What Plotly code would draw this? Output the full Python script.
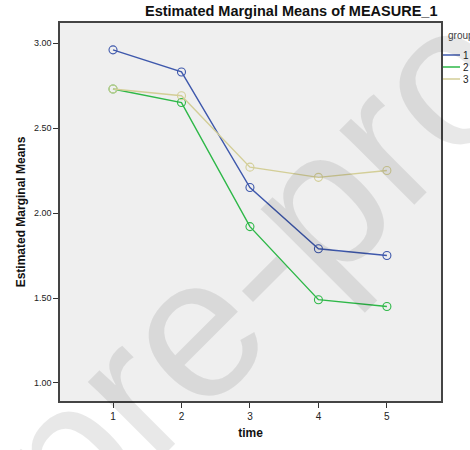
import plotly.graph_objects as go

time = [1, 2, 3, 4, 5]
groups = ["1", "2", "3"]
group1 = [2.96, 2.83, 2.15, 1.79, 1.75]
group2 = [2.73, 2.65, 1.92, 1.49, 1.45]
group3 = [2.73, 2.69, 2.27, 2.21, 2.25]
colors = ["#3e58ac", "#2eb848", "#d3ce97"]
y_ticks = [1.0, 1.5, 2.0, 2.5, 3.0]

FONT = "Liberation Sans, Arial, sans-serif"
W, H = 470, 450
L, R, T, B = 60, 29, 23, 49

fig = go.Figure()
for name, vals, col in zip(groups, [group1, group2, group3], colors):
    fig.add_trace(go.Scatter(
        x=time, y=vals, mode="lines+markers", name=name,
        line=dict(color=col, width=1.4),
        marker=dict(symbol="circle-open", size=8, color=col, line=dict(width=1.1)),
        showlegend=False,
    ))

fig.update_layout(
    width=W, height=H,
    margin=dict(l=L, r=R, t=T, b=B, pad=0),
    paper_bgcolor="white",
    plot_bgcolor="#efefef",
    font=dict(family=FONT, size=9, color="#222"),
    xaxis=dict(
        range=[0.226, 5.79], tickvals=time, ticktext=[str(t) for t in time],
        showgrid=False, zeroline=False, showline=True, mirror=True,
        linecolor="#444", linewidth=1.5, ticks="outside", ticklen=5,
        tickcolor="#333", tickfont=dict(size=10),
        title=dict(text="<b>time</b>", font=dict(size=12, color="#111"), standoff=8),
    ),
    yaxis=dict(
        range=[0.894, 3.118], tickvals=y_ticks,
        ticktext=[f"{v:.2f}" for v in y_ticks],
        showgrid=False, zeroline=False, showline=True, mirror=True,
        linecolor="#444", linewidth=1.5, ticks="outside", ticklen=5,
        tickcolor="#333", tickfont=dict(size=9),
        title=dict(text="<b>Estimated Marginal Means</b>", font=dict(size=12, color="#111"), standoff=6),
    ),
)

pw, ph = W - L - R, H - T - B
def px(xp):
    return (xp - L) / pw
def py(yp):
    return (H - B - yp) / ph

# title
fig.add_annotation(
    text="<b>Estimated Marginal Means of MEASURE_1</b>",
    xref="paper", yref="paper",
    x=px(291), y=py(11),
    xanchor="center", yanchor="middle", showarrow=False,
    font=dict(size=14.5, color="#111", family=FONT),
)

# manual legend
fig.add_annotation(text="group", xref="paper", yref="paper",
                   x=px(446), y=py(35), xanchor="left", yanchor="middle",
                   showarrow=False, font=dict(size=10, color="#444", family=FONT))
for i, (name, col) in enumerate(zip(groups, colors)):
    yy = 55 + 12 * i
    fig.add_shape(type="line", xref="paper", yref="paper",
                  x0=px(443), x1=px(460), y0=py(yy), y1=py(yy),
                  line=dict(color=col, width=1.5))
    fig.add_annotation(text=name, xref="paper", yref="paper",
                       x=px(461), y=py(yy), xanchor="left", yanchor="middle",
                       showarrow=False, font=dict(size=10, color="#222", family=FONT))

# watermark
fig.add_annotation(text="pre-proof", xref="paper", yref="paper",
                   x=px(312), y=py(208), xanchor="center", yanchor="middle",
                   showarrow=False, textangle=-45,
                   font=dict(size=200, color="rgba(0,0,0,0.09)", family=FONT))

fig.write_html("out.html")
